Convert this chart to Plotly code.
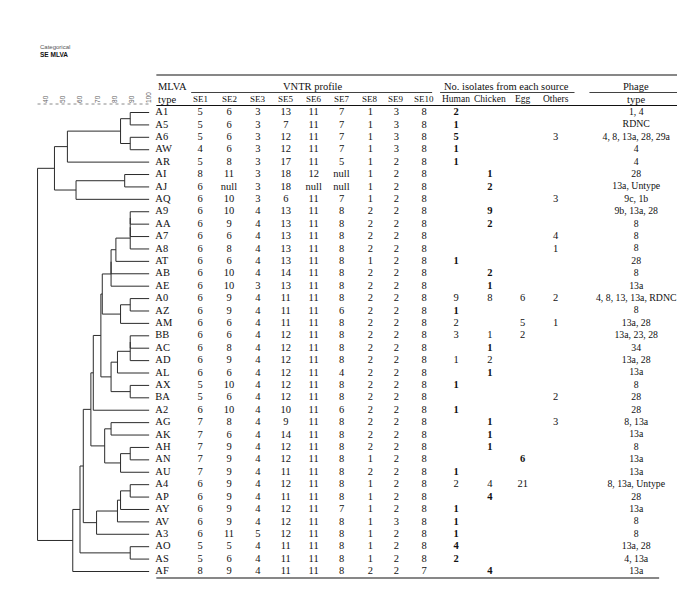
import plotly.graph_objects as go

# ---------------- data ----------------
types = ["A1", "A5", "A6", "AW", "AR", "AI", "AJ", "AQ", "A9", "AA", "A7", "A8", "AT", "AB",
         "AE", "A0", "AZ", "AM", "BB", "AC", "AD", "AL", "AX", "BA", "A2", "AG", "AK", "AH",
         "AN", "AU", "A4", "AP", "AY", "AV", "A3", "AO", "AS", "AF"]
SE1 = [5, 5, 5, 4, 5, 8, 6, 6, 6, 6, 6, 6, 6, 6, 6, 6, 6, 6, 6, 6, 6, 6, 5, 5, 6, 7, 7, 7, 7, 7,
       6, 6, 6, 6, 6, 5, 5, 8]
SE2 = [6, 6, 6, 6, 8, 11, "null", 10, 10, 9, 6, 8, 6, 10, 10, 9, 9, 6, 6, 8, 9, 6, 10, 6, 10, 8,
       6, 9, 9, 9, 9, 9, 9, 9, 11, 5, 6, 9]
SE3 = [3, 3, 3, 3, 3, 3, 3, 3, 4, 4, 4, 4, 4, 4, 3, 4, 4, 4, 4, 4, 4, 4, 4, 4, 4, 4, 4, 4, 4, 4,
       4, 4, 4, 4, 5, 4, 4, 4]
SE5 = [13, 7, 12, 12, 17, 18, 18, 6, 13, 13, 13, 13, 13, 14, 13, 11, 11, 11, 12, 12, 12, 12, 12,
       12, 10, 9, 14, 12, 12, 11, 12, 11, 12, 12, 12, 11, 11, 11]
SE6 = [11, 11, 11, 11, 11, 12, "null", 11, 11, 11, 11, 11, 11, 11, 11, 11, 11, 11, 11, 11, 11, 11,
       11, 11, 11, 11, 11, 11, 11, 11, 11, 11, 11, 11, 11, 11, 11, 11]
SE7 = [7, 7, 7, 7, 5, "null", "null", 7, 8, 8, 8, 8, 8, 8, 8, 8, 6, 8, 8, 8, 8, 4, 8, 8, 6, 8, 8,
       8, 8, 8, 8, 8, 7, 8, 8, 8, 8, 8]
SE8 = [1, 1, 1, 1, 1, 1, 1, 1, 2, 2, 2, 2, 1, 2, 2, 2, 2, 2, 2, 2, 2, 2, 2, 2, 2, 2, 2, 2, 1, 2,
       1, 1, 1, 1, 1, 1, 1, 2]
SE9 = [3, 3, 3, 3, 2, 2, 2, 2, 2, 2, 2, 2, 2, 2, 2, 2, 2, 2, 2, 2, 2, 2, 2, 2, 2, 2, 2, 2, 2, 2,
       2, 2, 2, 3, 2, 2, 2, 2]
SE10 = [8] * 37 + [7]
human = [2, 1, 5, 1, 1, None, None, None, None, None, None, None, 1, None, None, 9, 1, 2, 3, None,
         1, None, 1, None, 1, None, None, None, None, 1, 2, None, 1, 1, 1, 4, 2, None]
chicken = [None, None, None, None, None, 1, 2, None, 9, 2, None, None, None, 2, 1, 8, None, None,
           1, 1, 2, 1, None, None, None, 1, 1, 1, None, None, 4, 4, None, None, None, None, None, 4]
egg = [None] * 15 + [6, None, 5, 2] + [None] * 9 + [6, None, 21] + [None] * 7
others = [None, None, 3, None, None, None, None, 3, None, None, 4, 1, None, None, None, 2, None, 1,
          None, None, None, None, None, 2, None, 3] + [None] * 12
phage = ["1, 4", "RDNC", "4, 8, 13a, 28, 29a", "4", "4", "28", "13a, Untype", "9c, 1b",
         "9b, 13a, 28", "8", "8", "8", "28", "8", "13a", "4, 8, 13, 13a, RDNC", "8", "13a, 28",
         "13a, 23, 28", "34", "13a, 28", "13a", "8", "28", "28", "8, 13a", "13a", "8", "13a", "13a",
         "8, 13a, Untype", "28", "13a", "8", "8", "13a, 28", "4, 13a", "13a"]

# dendrogram (UPGMA, categorical similarity %): [similarity, child, child]
top_cluster = [45.0,
               [52.5, [83.3, [88.9, "A1", "A5"], [88.9, "A6", "AW"]], "AR"],
               [57.5, [85.7, "AI", "AJ"], "AQ"]]
c3 = [77.8, [77.8, [80.6, [88.9, [88.9, [88.9, "A9", "AA"], "A7"], "A8"], "AT"], "AB"], "AE"]
c4 = [83.3, [88.9, "A0", "AZ"], "AM"]
c8 = [77.8, [81.5, [88.9, [88.9, "BB", "AC"], "AD"], "AL"], [88.9, "AX", "BA"]]
c10 = [67.5, [71.9, [72.7, c3, c4], c8], "A2"]
c12 = [74.1, [77.8, "AG", "AK"], [83.3, [88.9, "AH", "AN"], "AU"]]
ca4 = [69.4, [81.5, [83.3, [88.9, "A4", "AP"], "AY"], "AV"], "A3"]
c15 = [55.6, [59.8, [61.7, [66.1, c10, c12], ca4], [88.9, "AO", "AS"]], "AF"]
tree = [35.2, top_cluster, c15]
scale_ticks = [40, 50, 60, 70, 80, 90, 100]

# ---------------- layout helpers ----------------
W, H = 685, 605
row0_px, row_last_px = 104.5, 563.5
step = (row_last_px - row0_px) / (len(types) - 1)
y_top = -row0_px / step
y_bot = (H - row0_px) / step
def py(px):
    return (px - row0_px) / step

row_of = {t: i for i, t in enumerate(types)}
xs, ys = [], []
def walk(node):
    if isinstance(node, str):
        return 100.0, row_of[node]
    sim, a, b = node
    xa, ya = walk(a)
    xb, yb = walk(b)
    xs.extend([xa, sim, None, xb, sim, None, sim, sim, None])
    ys.extend([ya, ya, None, yb, yb, None, ya, yb, None])
    return sim, (ya + yb) / 2.0
walk(tree)

FONT = "Liberation Serif"
fig = go.Figure()
fig.add_trace(go.Scatter(x=xs, y=ys, mode="lines", line=dict(color="#2b2b2b", width=1),
                         hoverinfo="skip", showlegend=False, xaxis="x", yaxis="y"))
# dotted similarity scale line
axis_px = 96
fig.add_trace(go.Scatter(x=[35.2, 100], y=[py(axis_px), py(axis_px)], mode="lines",
                         line=dict(color="#8a8a8a", width=1, dash="dot"),
                         hoverinfo="skip", showlegend=False, xaxis="x", yaxis="y"))

rows = list(range(len(types)))
def fmt(v):
    return "" if v is None else str(v)

def text_col(xpx, vals, pos="middle center", size=10.5):
    fig.add_trace(go.Scatter(x=[xpx] * len(vals), y=rows, mode="text", text=vals,
                             textposition=pos, textfont=dict(family=FONT, size=size, color="#111"),
                             hoverinfo="skip", showlegend=False, xaxis="x2", yaxis="y"))

col_px = {"SE1": 193, "SE2": 222, "SE3": 251, "SE5": 279, "SE6": 307, "SE7": 335,
          "SE8": 364, "SE9": 390, "SE10": 418}
text_col(148, types, pos="middle right")
for name, vals in zip(col_px, [SE1, SE2, SE3, SE5, SE6, SE7, SE8, SE9, SE10]):
    text_col(col_px[name], [fmt(v) for v in vals])

src_px = {"Human": 450, "Chicken": 484, "Egg": 517, "Others": 550}
hce = list(zip(human, chicken, egg))
def src_text(vals):
    out = []
    for i, v in enumerate(vals):
        if v is None:
            out.append("")
        elif sum(1 for u in hce[i] if u is not None) == 1:
            out.append("<b>%d</b>" % v)
        else:
            out.append(str(v))
    return out
text_col(src_px["Human"], src_text(human))
text_col(src_px["Chicken"], src_text(chicken))
text_col(src_px["Egg"], src_text(egg))
text_col(src_px["Others"], [fmt(v) for v in others])
phage_px = 631
text_col(phage_px, phage, size=9.8)

ann = []
def hdr(xpx, ypx, text, anchor="center", size=10.5):
    ann.append(dict(x=xpx, y=py(ypx), xref="x2", yref="y", text=text, showarrow=False,
                    xanchor=anchor, yanchor="middle",
                    font=dict(family=FONT, size=size, color="#111")))
hdr(149, 78, "MLVA", "left")
hdr(149, 91, "type", "left")
hdr(306, 78, "VNTR profile")
hdr(501, 78, "No. isolates from each source", size=10.5)
hdr(phage_px, 78, "Phage")
hdr(phage_px, 91, "type")
for name, x in col_px.items():
    hdr(x, 91, name, size=9)
for name, x in src_px.items():
    hdr(x, 91, name, size=9.5)

ann.append(dict(x=30 / W, y=1 - 39 / H, xref="paper", yref="paper", text="Categorical",
                showarrow=False, xanchor="left", yanchor="middle",
                font=dict(family="Liberation Sans", size=6, color="#555")))
ann.append(dict(x=30 / W, y=1 - 46.5 / H, xref="paper", yref="paper", text="<b>SE MLVA</b>",
                showarrow=False, xanchor="left", yanchor="middle",
                font=dict(family="Liberation Sans", size=6.5, color="#111")))

shapes = []
def hline(x0, x1, ypx, w=1.2):
    shapes.append(dict(type="line", xref="x2", yref="y", x0=x0, x1=x1, y0=py(ypx), y1=py(ypx),
                       line=dict(color="#111", width=w)))
hline(149, 679, 67)
hline(184, 426, 84.5, 0.8)
hline(434, 569, 84.5, 0.8)
hline(584, 679, 84.5, 0.8)
hline(149, 679, 97.5)
hline(149, 654, 570)

xmin, xmax = 30.0, 100.0
x40_px, x100_px = 38.0, 142.0
left_px = x40_px - (40 - xmin) * (x100_px - x40_px) / 60.0
fig.update_layout(
    width=W, height=H, margin=dict(l=0, r=0, t=0, b=0),
    paper_bgcolor="white", plot_bgcolor="rgba(0,0,0,0)",
    showlegend=False, annotations=ann, shapes=shapes,
    xaxis=dict(domain=[left_px / W, x100_px / W], range=[xmin, xmax], side="top",
               anchor="free", position=1 - (axis_px - 1) / H, tickvals=scale_ticks,
               ticktext=[str(t) for t in scale_ticks], tickangle=-90,
               tickfont=dict(family="Liberation Sans", size=6.5, color="#666"),
               showgrid=False, zeroline=False, showline=False, ticks=""),
    xaxis2=dict(domain=[0, 1], range=[0, W], visible=False, anchor="y"),
    yaxis=dict(domain=[0, 1], range=[y_bot, y_top], visible=False),
)
fig.write_html("out.html")
